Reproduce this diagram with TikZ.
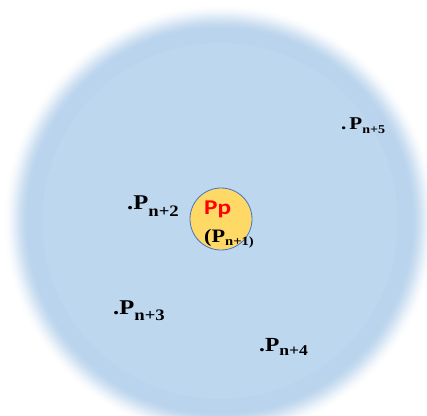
\documentclass[tikz,border=0pt]{standalone}
\usepackage{fontspec}
\setmainfont[FakeStretch=1.17]{Liberation Serif}
\newfontfamily\calib[FakeStretch=1.2]{Carlito}
\usetikzlibrary{positioning}

\definecolor{skyin}{HTML}{BDD7EE}
\definecolor{skyring}{HTML}{BAD4ED}
\definecolor{sunfill}{HTML}{FFD966}
\definecolor{sunline}{HTML}{4472C4}

% label: size, prefix, sub size, drop, sub text
\newcommand{\plab}[5]{{\fontsize{#1}{#1}\selectfont\bfseries #2P}\raisebox{-#4pt}{\fontsize{#3}{#3}\selectfont\bfseries #5}}

\begin{document}
\begin{tikzpicture}[
    x=1pt, y=-1pt,
    lab/.style={inner sep=0pt, anchor=base west},
    sun/.style={circle, fill=sunfill, draw=sunline, line width=0.8pt, minimum size=62pt, inner sep=0pt}
  ]
  \useasboundingbox (0,0) rectangle (427,415);
  \clip (0,0) rectangle (427,415);

  % soft halo, outer rings first
  \coordinate (c) at (220,221);
  \foreach \i in {0,...,38}{
    \pgfmathsetmacro{\t}{min(1,\i/26)}
    \pgfmathsetmacro{\pct}{100*\t*\t*(3-2*\t)}
    \fill[skyring!\pct!white] (c) circle[radius=217pt-\i pt];
  }
  \fill[skyin] (c) circle[radius=178pt];

  \node[sun] (pp) at (221,219) {};
  \node[lab, text=red] (pptxt) at (204,214) {\calib\fontsize{21}{21}\selectfont\bfseries Pp};
  \node[lab] (pn1) at (204,242) {\plab{19}{(}{12.5}{3}{n+1)}};

  \node[lab] (pn2) at (127,209) {\plab{21}{.}{16}{7}{n+2}};
  \node[lab] (pn3) at (113,314) {\plab{21}{.}{16}{6}{n+3}};
  \node[lab] (pn4) at (259,351) {\plab{20}{.}{15}{4}{n+4}};
  \node[lab] (pn5) at (341,129) {\plab{18}{.\,}{12}{4}{n+5}};

\end{tikzpicture}
\end{document}
